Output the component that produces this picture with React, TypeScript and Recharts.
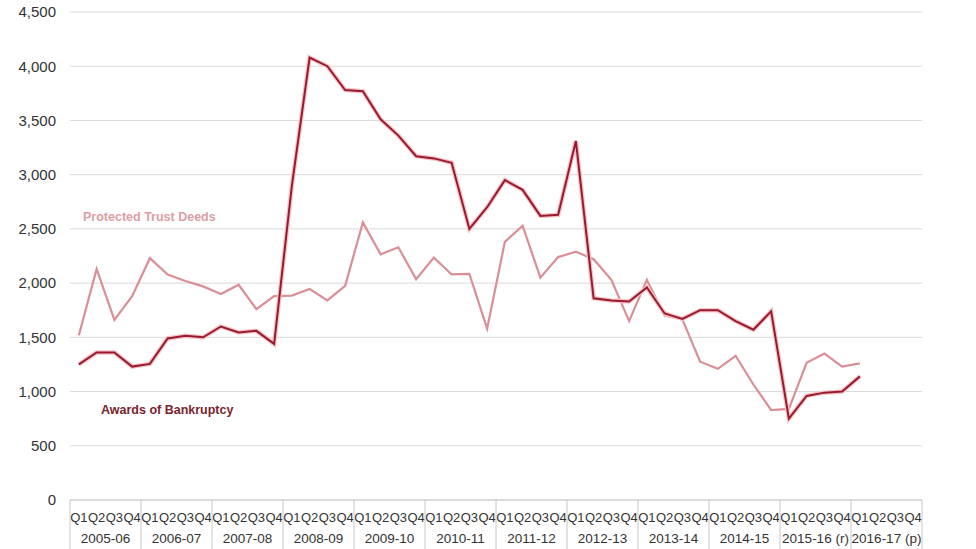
import React from 'react';
import { LineChart, Line, XAxis, YAxis, CartesianGrid } from 'recharts';

// Financial years and quarters along the x axis
const years = ['2005-06', '2006-07', '2007-08', '2008-09', '2009-10', '2010-11', '2011-12', '2012-13', '2013-14', '2014-15', '2015-16 (r)', '2016-17 (p)'];
const quarters = ['Q1', 'Q2', 'Q3', 'Q4'];

// Awards of Bankruptcy, from 2005-06 Q1 to 2016-17 Q1
const bankruptcy = [
  1250, 1360, 1360, 1230,
  1255, 1490, 1515, 1500,
  1600, 1545, 1560, 1440,
  2900, 4080, 4000, 3780,
  3770, 3510, 3360, 3170,
  3150, 3110, 2500, 2700,
  2950, 2860, 2620, 2630,
  3310, 1860, 1840, 1830,
  1960, 1720, 1670, 1750,
  1750, 1650, 1570, 1740,
  750, 960, 990, 1000,
  1140,
];

// Protected Trust Deeds, same period
const trustDeeds = [
  1520, 2130, 1660, 1880,
  2230, 2080, 2020, 1970,
  1900, 1985, 1760, 1880,
  1885, 1945, 1840, 1975,
  2560, 2265, 2330, 2035,
  2235, 2080, 2085, 1580,
  2380, 2530, 2050, 2240,
  2290, 2220, 2030, 1650,
  2030, 1700, 1665, 1275,
  1210, 1330, 1065, 830,
  840, 1265, 1350, 1230,
  1260,
];

const yTicks = [0, 500, 1000, 1500, 2000, 2500, 3000, 3500, 4000, 4500];

const data = years.flatMap((y, yi) =>
  quarters.map((q, qi) => {
    const i = yi * 4 + qi;
    return {
      idx: i,
      year: y,
      q,
      bankruptcy: i < bankruptcy.length ? bankruptcy[i] : null,
      trust: i < trustDeeds.length ? trustDeeds[i] : null,
    };
  })
);

const BAND = 852 / data.length;
const FONT = 'Arial, "Liberation Sans", Helvetica, sans-serif';

const QuarterTick = (props: any) => {
  const { x, y, payload } = props;
  const i = payload.value as number;
  const d = data[i];
  if (!d) return null;
  const isFirst = i % 4 === 0;
  const isLast = i === data.length - 1;
  return (
    <g>
      <text x={x} y={y + 17} textAnchor="middle" dominantBaseline="central" fontSize={13} fill="#333" fontFamily={FONT}>
        {d.q}
      </text>
      {isFirst && (
        <>
          <line x1={x - BAND / 2} x2={x - BAND / 2} y1={y} y2={y + 49} stroke="#c8c8c8" />
          <text x={x + BAND * 1.5} y={y + 38} textAnchor="middle" dominantBaseline="central" fontSize={13.5} fill="#333" fontFamily={FONT}>
            {d.year}
          </text>
        </>
      )}
      {isLast && <line x1={x + BAND / 2} x2={x + BAND / 2} y1={y} y2={y + 49} stroke="#c8c8c8" />}
    </g>
  );
};

export default function App() {
  return (
    <div style={{ position: 'fixed', left: 0, top: 0, width: 976, height: 549, background: '#fff' }}>
      <LineChart width={976} height={549} data={data} margin={{ top: 12, right: 54, left: 0, bottom: 0 }}>
        <CartesianGrid vertical={false} stroke="#d9d9d9" />
        <YAxis
          domain={[0, 4500]}
          ticks={yTicks}
          width={70}
          axisLine={false}
          tickLine={false}
          tickSize={6}
          tickMargin={8}
          tickFormatter={(v: number) => v.toLocaleString('en-GB')}
          tick={{ fill: '#333', fontSize: 15, fontFamily: FONT }}
        />
        <XAxis
          dataKey="idx"
          type="number"
          domain={[-0.5, data.length - 0.5]}
          ticks={data.map(d => d.idx)}
          interval={0}
          height={49}
          axisLine={{ stroke: '#c8c8c8' }}
          tickLine={false}
          tickSize={0}
          tickMargin={0}
          tick={<QuarterTick />}
        />
        <Line dataKey="trust" stroke="#da8e95" strokeWidth={2.2} dot={false} isAnimationActive={false} />
        <Line dataKey="bankruptcy" stroke="#f6c3c7" strokeWidth={4.5} dot={false} isAnimationActive={false} />
        <Line dataKey="bankruptcy" stroke="#991a2e" strokeWidth={2} dot={false} isAnimationActive={false} />
        <text x={83} y={217} dominantBaseline="central" fontSize={12.5} fontWeight="bold" fill="#dc9ea4" fontFamily={FONT}>
          Protected Trust Deeds
        </text>
        <text x={101} y={410} dominantBaseline="central" fontSize={12.5} fontWeight="bold" fill="#7a1f2e" fontFamily={FONT}>
          Awards of Bankruptcy
        </text>
      </LineChart>
    </div>
  );
}
